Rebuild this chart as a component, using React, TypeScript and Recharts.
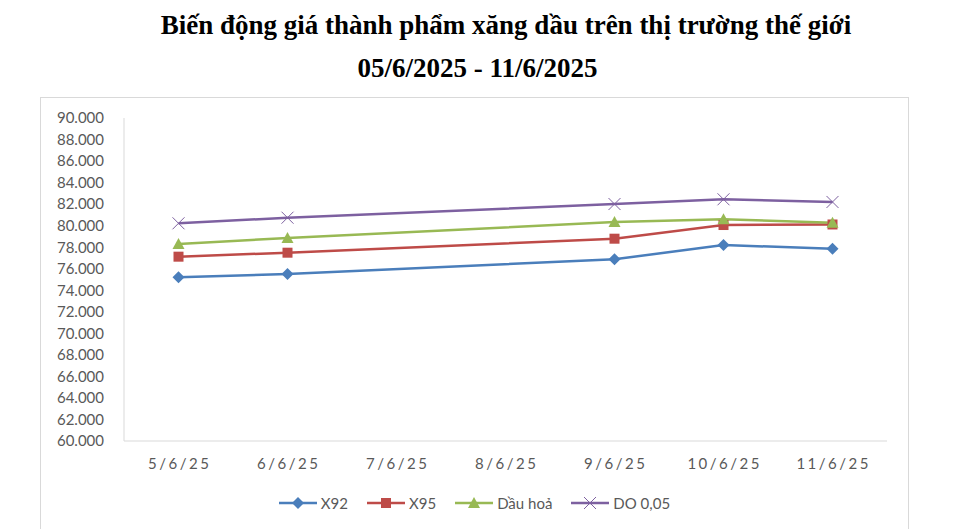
import React from 'react';
import { LineChart, Line, XAxis, YAxis, Legend } from 'recharts';

const categories = ['5/6/25', '6/6/25', '7/6/25', '8/6/25', '9/6/25', '10/6/25', '11/6/25'];
const x92 = [75200, 75510, null, null, 76880, 78200, 77860];
const x95 = [77120, 77490, null, null, 78790, 80060, 80110];
const dauHoa = [78300, 78850, null, null, 80340, 80590, 80280];
const do005 = [80220, 80740, null, null, 82010, 82450, 82200];
const yTicks = [60000, 62000, 64000, 66000, 68000, 70000, 72000, 74000, 76000, 78000, 80000, 82000, 84000, 86000, 88000, 90000];
const seriesNames = ['X92', 'X95', 'Dầu hoả', 'DO 0,05'];
const seriesKeys = ['x92', 'x95', 'dauHoa', 'do005'];
const seriesColors = ['#4a7ebb', '#be4b48', '#98b954', '#7d60a0'];
const titleLine1 = 'Biến động giá thành phẩm xăng dầu trên thị trường thế giới';
const titleLine2 = '05/6/2025 - 11/6/2025';

const data = categories.map((cat, i) => ({
  cat,
  x92: x92[i],
  x95: x95[i],
  dauHoa: dauHoa[i],
  do005: do005[i],
}));

const FONT = 'Lato, "Liberation Sans", sans-serif';
const TEXT = '#595959';
const AXIS = '#d9d9d9';

function Marker({ kind, cx, cy, color }: { kind: number; cx: number; cy: number; color: string }) {
  if (kind === 0) {
    return <polygon points={`${cx},${cy - 6} ${cx + 6},${cy} ${cx},${cy + 6} ${cx - 6},${cy}`} fill={color} />;
  }
  if (kind === 1) {
    return <rect x={cx - 5} y={cy - 5} width={10} height={10} fill={color} />;
  }
  if (kind === 2) {
    return <polygon points={`${cx},${cy - 6} ${cx + 6},${cy + 5} ${cx - 6},${cy + 5}`} fill={color} />;
  }
  return (
    <g stroke={color} strokeWidth={1}>
      <line x1={cx - 6} y1={cy - 6} x2={cx + 6} y2={cy + 6} />
      <line x1={cx - 6} y1={cy + 6} x2={cx + 6} y2={cy - 6} />
    </g>
  );
}

const makeDot = (kind: number, color: string) => (props: any) => {
  const { cx, cy, index } = props;
  if (cx == null || cy == null || props.value == null) return <g key={`d-${kind}-${index}`} />;
  return (
    <g key={`d-${kind}-${index}`}>
      <Marker kind={kind} cx={cx} cy={cy} color={color} />
    </g>
  );
};

const XTick = (props: any) => {
  const { x, y, payload } = props;
  return (
    <text x={x + 1.2} y={y} dy="0.71em" textAnchor="middle" fill={TEXT} fontSize={15} fontFamily={FONT} style={{ letterSpacing: 2.5 }}>
      {payload.value}
    </text>
  );
};

const LegendContent = () => (
  <div style={{ display: 'flex', justifyContent: 'center', alignItems: 'center', fontFamily: FONT, fontSize: 15, color: TEXT }}>
    {seriesNames.map((name, i) => (
      <div key={name} style={{ display: 'flex', alignItems: 'center', marginLeft: i === 0 ? 0 : 19 }}>
        <svg width={38} height={14} style={{ display: 'block' }}>
          <line x1={0} y1={7} x2={38} y2={7} stroke={seriesColors[i]} strokeWidth={2.5} />
          <Marker kind={i} cx={19} cy={7} color={seriesColors[i]} />
        </svg>
        <span style={{ marginLeft: 4, lineHeight: '20px' }}>{name}</span>
      </div>
    ))}
  </div>
);

const titleStyle: React.CSSProperties = {
  position: 'absolute',
  left: 0,
  textAlign: 'center',
  fontFamily: '"Liberation Serif", "Times New Roman", serif',
  fontWeight: 'bold',
  fontSize: 27,
  color: '#000',
  whiteSpace: 'nowrap',
};

export default function App() {
  return (
    <div style={{ position: 'absolute', left: 0, top: 0, width: 957, height: 529, overflow: 'hidden', background: '#fff' }}>
      <div style={{ ...titleStyle, width: 1012, top: 10 }}>{titleLine1}</div>
      <div style={{ ...titleStyle, width: 955, top: 53 }}>{titleLine2}</div>
      <div style={{ position: 'absolute', left: 40, top: 97, width: 867, height: 440, border: `1px solid ${AXIS}` }}>
        <LineChart width={867} height={440} data={data} margin={{ top: 20, right: 21, left: 0, bottom: 67 }}>
          <XAxis
            dataKey="cat"
            interval={0}
            tickLine={false}
            tickSize={0}
            tickMargin={17}
            axisLine={{ stroke: AXIS, strokeWidth: 1 }}
            padding={{ left: 54.5, right: 54.5 }}
            tick={<XTick />}
            height={30}
          />
          <YAxis
            width={83}
            domain={[60000, 90000]}
            ticks={yTicks}
            interval={0}
            tickLine={false}
            tickSize={0}
            tickMargin={20}
            axisLine={{ stroke: AXIS, strokeWidth: 1 }}
            tick={{ fill: TEXT, fontSize: 15, fontFamily: FONT }}
            tickFormatter={(v: number) => (v / 1000).toFixed(3)}
          />
          {seriesKeys.map((k, i) => (
            <Line
              key={k}
              type="linear"
              dataKey={k}
              name={seriesNames[i]}
              stroke={seriesColors[i]}
              strokeWidth={2.5}
              connectNulls
              isAnimationActive={false}
              dot={makeDot(i, seriesColors[i])}
              activeDot={false}
            />
          ))}
          <Legend
            verticalAlign="middle"
            align="center"
            layout="horizontal"
            content={<LegendContent />}
            wrapperStyle={{ top: 395, left: 0, width: 867, height: 20 }}
          />
        </LineChart>
      </div>
    </div>
  );
}
